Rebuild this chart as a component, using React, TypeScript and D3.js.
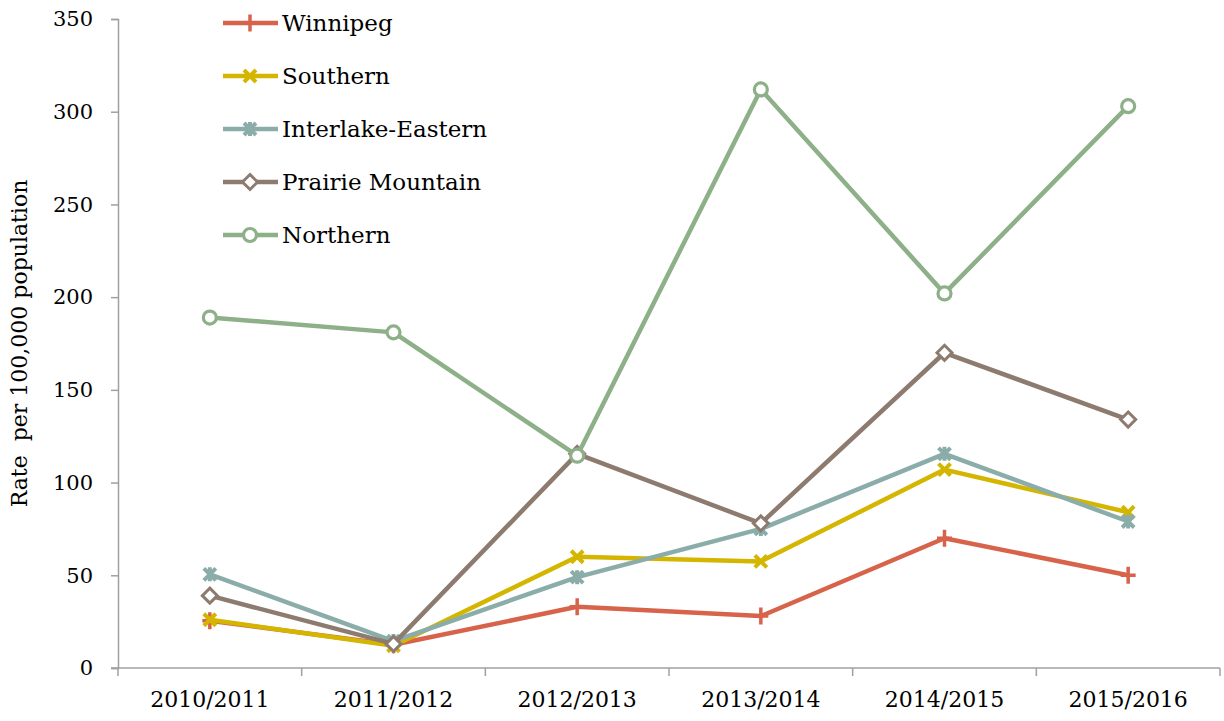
import { useEffect, useRef } from "react";
import * as d3 from "d3";

const years = ["2010/2011", "2011/2012", "2012/2013", "2013/2014", "2014/2015", "2015/2016"];
const winnipeg = [25.5, 12.5, 33, 28, 70, 50];
const southern = [26, 12, 60, 57.5, 107, 84];
const interlake = [50.5, 14.5, 49, 75, 115.5, 79];
const prairie = [39, 13, 115.5, 78, 170, 134];
const northern = [189, 181, 114.5, 312, 202, 303];
const yTicks = [0, 50, 100, 150, 200, 250, 300, 350];

const series = [
  { name: "Winnipeg", values: winnipeg, color: "#D6634A", marker: "plus" },
  { name: "Southern", values: southern, color: "#D4B600", marker: "x" },
  { name: "Interlake-Eastern", values: interlake, color: "#8AADAA", marker: "star" },
  { name: "Prairie Mountain", values: prairie, color: "#8D7B70", marker: "diamond" },
  { name: "Northern", values: northern, color: "#8DB088", marker: "circle" },
];

const FONT = "'DejaVu Serif', serif";

function drawMarker(g: any, type: string, x: number, y: number, color: string) {
  if (type === "plus") {
    g.append("path")
      .attr("d", `M${x - 7.5},${y}H${x + 7.5}M${x},${y - 8.5}V${y + 8.5}`)
      .attr("stroke", color).attr("stroke-width", 3.5).attr("fill", "none");
  } else if (type === "x") {
    g.append("path")
      .attr("d", `M${x - 6},${y - 6}L${x + 6},${y + 6}M${x + 6},${y - 6}L${x - 6},${y + 6}`)
      .attr("stroke", color).attr("stroke-width", 4).attr("fill", "none");
  } else if (type === "star") {
    g.append("path")
      .attr("d", `M${x - 6},${y - 6}L${x + 6},${y + 6}M${x + 6},${y - 6}L${x - 6},${y + 6}M${x},${y - 7}V${y + 7}`)
      .attr("stroke", color).attr("stroke-width", 4).attr("fill", "none");
  } else if (type === "diamond") {
    g.append("path")
      .attr("d", `M${x},${y - 7.5}L${x + 7.5},${y}L${x},${y + 7.5}L${x - 7.5},${y}Z`)
      .attr("stroke", color).attr("stroke-width", 3).attr("fill", "#fff");
  } else {
    g.append("circle")
      .attr("cx", x).attr("cy", y).attr("r", 6.5)
      .attr("stroke", color).attr("stroke-width", 3.2).attr("fill", "#fff");
  }
}

const App = () => {
  const ref = useRef<SVGSVGElement>(null);

  useEffect(() => {
    const width = 1224;
    const height = 721;
    const m = { top: 19, right: 4, bottom: 53, left: 118 };
    const svg = d3.select(ref.current);
    svg.selectAll("*").remove();

    const x = d3.scaleBand().domain(years).range([m.left, width - m.right]);
    const y = d3.scaleLinear().domain([0, 350]).range([height - m.bottom, m.top]);

    // y axis
    const yAxis = svg.append("g")
      .attr("transform", `translate(${m.left},0)`)
      .call(d3.axisLeft(y).tickValues(yTicks).tickSize(7).tickPadding(18));
    yAxis.select(".domain").attr("stroke", "#A0A0A0").attr("stroke-width", 1.5);
    yAxis.selectAll(".tick line").attr("stroke", "#A0A0A0").attr("stroke-width", 1.5);
    yAxis.selectAll("text").attr("font-family", FONT).attr("font-size", 21).attr("fill", "#000");

    // x axis
    const xAxis = svg.append("g")
      .attr("transform", `translate(0,${height - m.bottom})`)
      .call(d3.axisBottom(x).tickSize(0).tickPadding(23));
    xAxis.select(".domain").attr("stroke", "#A0A0A0").attr("stroke-width", 1.5)
      .attr("d", `M${m.left - 7},0H${width - m.right}`);
    xAxis.selectAll("text").attr("font-family", FONT).attr("font-size", 22).attr("fill", "#000");
    const bounds = [...years.map((d) => x(d) as number), width - m.right];
    xAxis.selectAll(".edge").data(bounds).enter().append("line")
      .attr("x1", (d) => d).attr("x2", (d) => d)
      .attr("y1", 0).attr("y2", 8)
      .attr("stroke", "#A0A0A0").attr("stroke-width", 1.5);

    // y label
    svg.append("text")
      .attr("transform", `translate(27,${(m.top + height - m.bottom) / 2}) rotate(-90)`)
      .attr("text-anchor", "middle")
      .attr("font-family", FONT).attr("font-size", 22)
      .attr("xml:space", "preserve")
      .text("Rate  per 100,000 population");

    const cx = (d: string) => (x(d) as number) + x.bandwidth() / 2;
    const line = d3.line<number>().x((_, i) => cx(years[i])).y((d) => y(d));

    series.forEach((s) => {
      const g = svg.append("g");
      g.append("path").attr("d", line(s.values))
        .attr("fill", "none").attr("stroke", s.color).attr("stroke-width", 4.5)
        .attr("stroke-linejoin", "round");
      s.values.forEach((v, i) => drawMarker(g, s.marker, cx(years[i]), y(v), s.color));
    });

    // legend
    const lg = svg.append("g");
    series.forEach((s, i) => {
      const ly = 23 + i * 53;
      lg.append("line").attr("x1", 223).attr("x2", 278).attr("y1", ly).attr("y2", ly)
        .attr("stroke", s.color).attr("stroke-width", 4.5);
      drawMarker(lg, s.marker, 250, ly, s.color);
      lg.append("text").attr("x", 282).attr("y", ly).attr("dy", "0.35em")
        .attr("font-family", FONT).attr("font-size", 23).text(s.name);
    });
  }, []);

  return (
    <svg ref={ref} width={1224} height={721}
      style={{ position: "absolute", left: 0, top: 0, background: "#fff" }} />
  );
};

export default App;
